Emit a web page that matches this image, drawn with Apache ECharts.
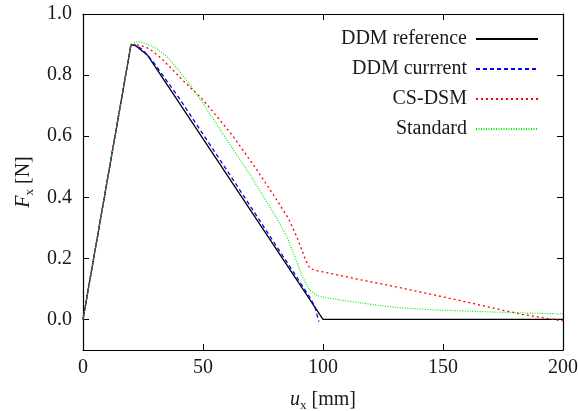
<!DOCTYPE html>
<html>
<head>
<meta charset="utf-8">
<script src="https://cdn.jsdelivr.net/npm/echarts@6/dist/echarts.min.js"></script>
<style>html,body{margin:0;padding:0;background:#fff;}#c{width:578px;height:411px;}</style>
</head>
<body>
<div id="c"></div>
<script>
const seriesNames = ['DDM reference', 'DDM currrent', 'CS-DSM', 'Standard'];
const refX = [0, 20, 22, 27, 100, 200];
const refY = [0, 0.9, 0.896, 0.864, 0.0, 0.0];
const curX = [0, 20, 22, 25, 29, 40, 60, 82, 90, 95, 96.7, 97.5, 98.3];
const curY = [0, 0.9, 0.898, 0.882, 0.846, 0.725, 0.488, 0.223, 0.127, 0.066, 0.04, 0.015, -0.007];
const csX = [0, 20, 22.4, 26, 29.3, 33, 36.25, 42, 49.4, 56, 62.6, 72.4, 80, 85.5, 89, 91.1, 93, 94.5, 97, 100, 115, 132, 150, 161, 175, 183.5, 200];
const csY = [0, 0.9, 0.899, 0.893, 0.877, 0.852, 0.826, 0.78, 0.724, 0.663, 0.599, 0.49, 0.4, 0.332, 0.272, 0.229, 0.19, 0.168, 0.16, 0.156, 0.131, 0.104, 0.074, 0.055, 0.03, 0.016, -0.005];
const stdX = [0, 20, 22.4, 25, 30, 35, 40, 45, 48.75, 59.9, 69.6, 80.7, 85, 88, 91.1, 93, 94.6, 97, 100, 107, 115, 124, 132, 145, 161, 180, 200];
const stdY = [0, 0.9, 0.909, 0.907, 0.89, 0.86, 0.815, 0.765, 0.722, 0.588, 0.474, 0.332, 0.27, 0.21, 0.147, 0.115, 0.095, 0.08, 0.073, 0.064, 0.055, 0.045, 0.038, 0.032, 0.027, 0.022, 0.018];
const xTicks = [0, 50, 100, 150, 200];
const yTicks = [0, 0.2, 0.4, 0.6, 0.8, 1.0];

const zip = (xs, ys) => xs.map((x, i) => [x, ys[i]]);
const font = 'Liberation Serif, Times New Roman, serif';
const txt = '#1a1a1a';

const chart = echarts.init(document.getElementById('c'), null, {renderer: 'canvas'});
const axisLine = {show: true, onZero: false, lineStyle: {color: '#000', width: 1.2}};
const tick = (vals) => ({show: true, inside: true, length: 6, customValues: vals, lineStyle: {color: '#000', width: 1}});
const nameRich = {
  i: {fontFamily: font, fontSize: 20, fontStyle: 'italic', color: txt, lineHeight: 24},
  s: {fontFamily: font, fontSize: 13, color: txt, verticalAlign: 'bottom', lineHeight: 20}
};

chart.setOption({
  animation: false,
  backgroundColor: '#fff',
  grid: {left: 83, right: 15, top: 14, bottom: 61, containLabel: false, outerBoundsMode: 'none'},
  legend: {
    data: seriesNames,
    orient: 'vertical',
    right: 34,
    top: 24,
    align: 'right',
    itemWidth: 62,
    itemHeight: 20,
    itemGap: 10,
    itemStyle: {opacity: 0},
    textStyle: {fontFamily: font, fontSize: 20, color: txt, padding: [0, 4, 0, 0]}
  },
  xAxis: [
    {
      type: 'value', min: 0, max: 200, interval: 50, position: 'bottom',
      axisLine: axisLine, splitLine: {show: false},
      axisTick: tick(xTicks),
      axisLabel: {customValues: xTicks, fontFamily: font, fontSize: 20, color: txt, margin: 8},
      name: '{i|u}{s|x} [mm]', nameLocation: 'middle', nameGap: 38,
      nameTextStyle: {fontFamily: font, fontSize: 20, color: txt, rich: nameRich}
    },
    {
      type: 'value', min: 0, max: 200, interval: 50, position: 'top',
      axisLine: axisLine, splitLine: {show: false},
      axisTick: tick(xTicks), axisLabel: {show: false}
    }
  ],
  yAxis: [
    {
      type: 'value', min: -0.1, max: 1.0, position: 'left',
      axisLine: axisLine, splitLine: {show: false},
      axisTick: tick(yTicks),
      axisLabel: {customValues: yTicks, formatter: v => v.toFixed(1), fontFamily: font, fontSize: 20, color: txt, margin: 11},
      name: '{i|F}{s|x} [N]', nameLocation: 'middle', nameGap: 46, nameRotate: 90,
      nameTextStyle: {fontFamily: font, fontSize: 20, color: txt, rich: nameRich}
    },
    {
      type: 'value', min: -0.1, max: 1.0, position: 'right',
      axisLine: axisLine, splitLine: {show: false},
      axisTick: tick(yTicks), axisLabel: {show: false}
    }
  ],
  series: [
    {name: seriesNames[0], type: 'line', data: zip(refX, refY), symbol: 'none', z: 2,
     lineStyle: {color: '#000', width: 1.3, type: 'solid'}, itemStyle: {color: '#000'}},
    {name: seriesNames[1], type: 'line', data: zip(curX, curY), symbol: 'none', z: 3,
     lineStyle: {color: '#0000ff', width: 1.3, type: [4, 3]}, itemStyle: {color: '#0000ff'}},
    {name: seriesNames[2], type: 'line', data: zip(csX, csY), symbol: 'none', z: 4,
     lineStyle: {color: '#ff0000', width: 1.3, type: [2, 3]}, itemStyle: {color: '#ff0000'}},
    {name: seriesNames[3], type: 'line', data: zip(stdX, stdY), symbol: 'none', z: 5,
     lineStyle: {color: '#00ee00', width: 1.2, type: [1, 1.5]}, itemStyle: {color: '#00ee00'}}
  ]
});
</script>
</body>
</html>
